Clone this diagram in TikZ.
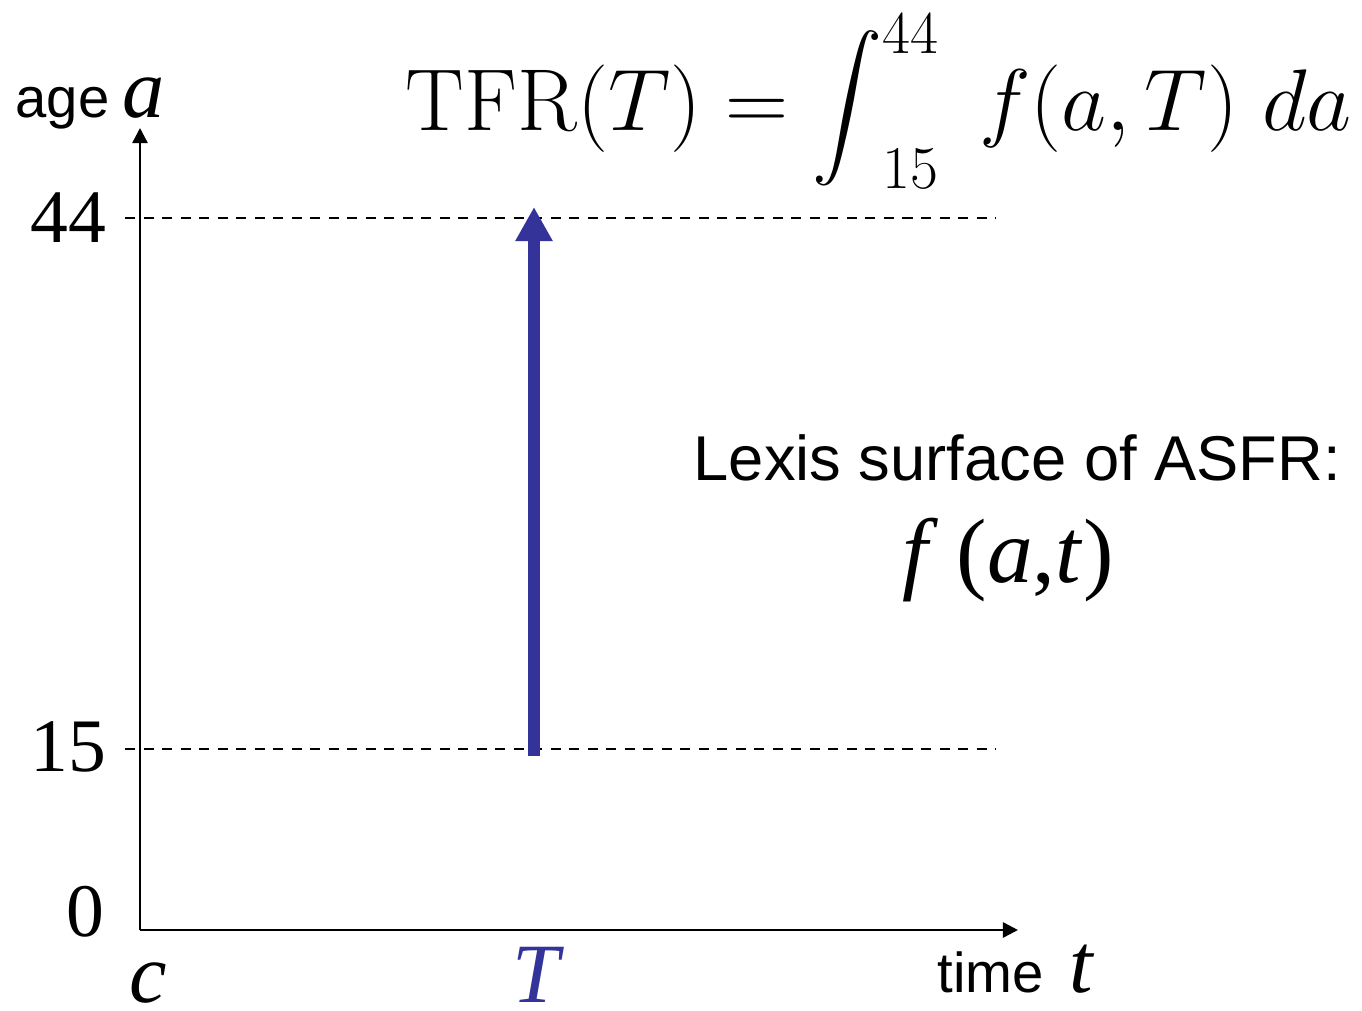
\documentclass[tikz,border=0pt]{standalone}
\usepackage{fontspec}
\setsansfont{Liberation Sans}
\newfontfamily\timesfont{Liberation Serif}
\usepackage{amsmath}
\usepackage{graphicx}
\usepackage{tikz}
\usetikzlibrary{arrows.meta, positioning}
\definecolor{lexisBlue}{HTML}{333399}
\newcommand\lexint{\mathop{\vcenter{\hbox{\scalebox{0.8}{$\displaystyle\int$}}}}\nolimits}
\tikzset{
  axisline/.style={-{Triangle[length=0.15cm, width=0.15cm]}, black, line width=0.7pt},
  gridline/.style={black, line width=0.65pt, dash pattern=on 0.1cm off 0.085cm},
  cohortarrow/.style={-{Triangle[length=0.34cm, width=0.35cm]}, lexisBlue, line width=3.4pt},
  ticklabel/.style={font=\timesfont\fontsize{21.5}{24}\selectfont, inner sep=0pt},
  axislabel/.style={font=\sffamily\fontsize{16}{19}\selectfont, inner sep=0pt},
  varlabel/.style={font=\timesfont\itshape\fontsize{24}{28}\selectfont, inner sep=0pt},
}

\begin{document}
\begin{tikzpicture}[x=0.01cm, y=-0.01cm]
    \useasboundingbox (0,0) rectangle (1362,1011);

    % axes
    \coordinate (o) at (140,930);
    \coordinate (ytop) at (140,128);
    \coordinate (xend) at (1018,930);
    \draw[axisline] (o) -- (ytop);
    \draw[axisline] (o) -- (xend);

    % age limits 15 and 44
    \coordinate (g44a) at (125,218); \coordinate (g44b) at (996,218);
    \coordinate (g15a) at (125,749); \coordinate (g15b) at (996,749);
    \draw[gridline] (g44a) -- (g44b);
    \draw[gridline] (g15a) -- (g15b);
    \node[ticklabel, anchor=east] (l44) at (107,218) {44};
    \node[ticklabel, anchor=east] (l15) at (107,747) {15};
    \node[ticklabel, anchor=east] (l0)  at (105,912) {0};

    % axis labels
    \node[axislabel, anchor=base west] (agelab) at (15,117)
      {age\hspace{-0.05em} \timesfont\itshape\fontsize{24}{28}\selectfont a};
    \node[axislabel, anchor=base west] (timelab) at (937,992)
      {time\, \timesfont\itshape\fontsize{24}{28}\selectfont t};
    \node[varlabel, anchor=base] (clab) at (148,1002) {c};
    \node[varlabel, anchor=base, text=lexisBlue] (Tlab) at (536,1002) {T};

    % period T
    \coordinate (T15) at (534,756);
    \coordinate (T44) at (534,207);
    \draw[cohortarrow] (T15) -- (T44);

    \node[anchor=base west, inner sep=0pt, font=\fontsize{25}{30}\selectfont] (tfr) at (405,130)
      {$\mathrm{TFR}(T) = \lexint_{15}^{44}\; f(a,T)\;da$};

    \node[axislabel, font=\sffamily\fontsize{18}{22}\selectfont, anchor=base west] (lexis) at (693,480)
      {Lexis surface of ASFR:};
    \node[anchor=base, inner sep=0pt, font=\timesfont\fontsize{26}{30}\selectfont] (fat) at (1008,582)
      {\textit{f}\hspace{0.2em}(\textit{a},\textit{t})};
\end{tikzpicture}
\end{document}
